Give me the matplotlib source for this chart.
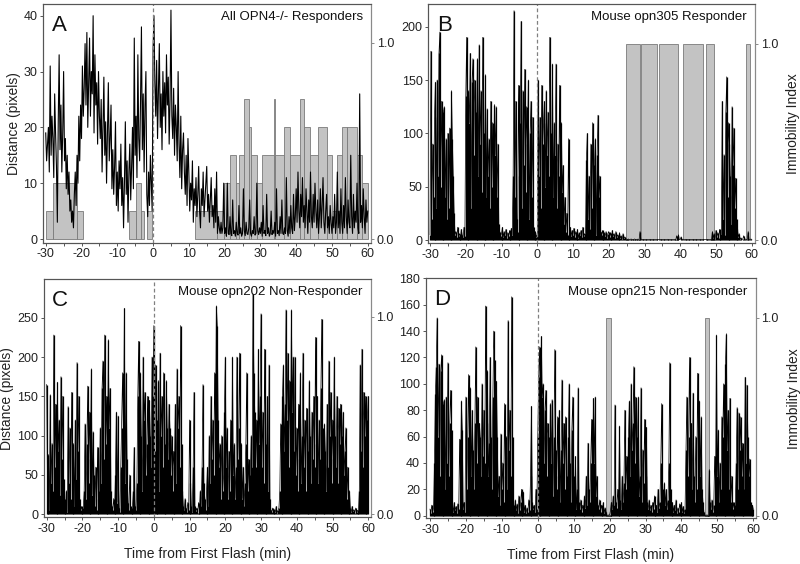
import numpy as np
import matplotlib
matplotlib.use("Agg")
import matplotlib.pyplot as plt
from matplotlib.ticker import MultipleLocator

plt.rcParams['font.family'] = ['Liberation Sans', 'DejaVu Sans']
plt.rcParams['axes.unicode_minus'] = False

# ---------------- data ----------------
t_start = -30.0          # minutes
t_step = 0.25            # sampling interval (minutes)

dist_A = [
    19, 14, 17, 20, 12, 31, 15, 22, 18, 11, 26, 19, 13, 3, 21, 33, 16, 24, 12, 19,
    30, 14, 18, 9, 15, 8, 12, 5, 7, 3, 5, 2, 8, 12, 6, 15, 10, 22, 14, 24,
    18, 31, 22, 27, 35, 24, 37, 20, 28, 36, 22, 30, 26, 40, 19, 33, 24, 28, 17, 30,
    22, 18, 25, 12, 20, 29, 15, 21, 10, 19, 28, 14, 18, 24, 9, 16, 8, 13, 21, 6,
    12, 5, 14, 9, 17, 6, 11, 2, 10, 21, 8, 14, 3, 12, 17, 7, 13, 20, 9, 36,
    15, 22, 11, 33, 18, 14, 25, 38, 16, 26, 12, 24, 30, 8, 4, 12, 6, 15, 10, 5,
    34, 40, 28, 22, 32, 18, 27, 35, 20, 26, 16, 30, 22, 28, 19, 33, 24, 29, 17, 25,
    41, 22, 18, 27, 15, 24, 20, 14, 30, 17, 11, 22, 9, 16, 19, 12, 8, 15, 6, 18,
    12, 5, 10, 7, 14, 3, 9, 6, 11, 4, 8, 13, 5, 2, 9, 6, 12, 4, 7, 10,
    13, 5, 8, 3, 7, 11, 4, 6, 2, 9, 3, 12, 1, 4, 2, 1, 3, 1, 2, 10,
    1, 2, 0.5, 10, 1, 0.8, 4, 1, 0.6, 7, 1, 1.5, 0.5, 3, 1, 0.7, 6, 1, 2, 0.5,
    1, 9, 1.5, 0.6, 3, 1, 0.8, 2, 7, 1, 0.5, 1.5, 1, 4, 0.7, 1, 10, 1.5, 0.8, 2,
    1, 3, 0.5, 6, 1, 1.5, 0.6, 8, 1, 2, 0.5, 1, 5, 0.8, 1.5, 1, 3, 0.5, 9, 1,
    1.5, 0.6, 4, 1, 7, 1, 0.8, 2, 1, 11, 1.5, 0.5, 4, 1, 6, 2, 1, 8, 1.5, 4,
    9, 3, 12, 5, 2, 8, 4, 11, 3, 6, 2, 9, 5, 1, 7, 3, 12, 4, 2, 8,
    3, 10, 5, 2, 7, 1, 4, 9, 2, 6, 11, 3, 1, 5, 8, 2, 4, 1, 6, 3,
    1, 4, 2, 8, 1, 3, 12, 2, 5, 1, 9, 3, 1, 6, 2, 11, 4, 1, 7, 3,
    2, 15, 4, 1, 8, 2, 5, 3, 10, 2, 1, 26, 3, 6, 2, 9, 4, 1, 7, 3,
    5,
]

dist_B = [
    5, 177, 20, 90, 40, 115, 148, 30, 150, 60, 175, 195, 50, 130, 70, 120, 125, 40, 95, 20,
    100, 30, 105, 15, 140, 95, 60, 25, 5, 8, 3, 12, 4, 6, 2, 10, 5, 3, 12, 4,
    135, 190, 60, 140, 110, 175, 30, 148, 170, 80, 150, 120, 100, 170, 60, 183, 90, 140, 45, 190,
    100, 70, 155, 40, 123, 60, 95, 30, 130, 50, 110, 20, 127, 80, 125, 40, 90, 15, 8, 4,
    6, 12, 3, 8, 5, 10, 2, 7, 4, 9, 3, 11, 5, 60, 215, 40, 130, 20, 8, 145,
    60, 110, 205, 30, 140, 70, 160, 45, 125, 90, 150, 20, 100, 130, 40, 115, 12, 5, 8, 3,
    5, 150, 60, 115, 30, 145, 90, 110, 130, 50, 140, 80, 120, 60, 190, 100, 70, 165, 40, 110,
    80, 165, 30, 90, 60, 145, 20, 110, 45, 70, 15, 40, 8, 25, 5, 95, 6, 12, 4, 9,
    5, 11, 3, 8, 4, 10, 2, 7, 5, 9, 3, 12, 4, 6, 2, 75, 100, 20, 60, 10,
    90, 30, 110, 15, 70, 95, 5, 80, 117, 40, 60, 8, 5, 9, 3, 7, 4, 8, 2, 6,
    8, 3, 7, 2, 9, 4, 6, 2, 8, 3, 5, 1, 7, 2, 4, 1, 6, 2, 3, 1,
    1, 0.5, 1, 0.3, 0.5, 1, 0.4, 0.6, 0.5, 1, 0.3, 0.5, 0.8, 0.4, 1, 8, 0.5, 0.3, 0.6, 0.4,
    0.5, 0.3, 0.6, 0.4, 0.5, 0.3, 0.7, 0.4, 0.5, 0.3, 0.6, 0.4, 0.5, 0.3, 0.6, 0.4, 0.5, 0.3, 0.6, 0.4,
    0.5, 0.3, 0.6, 0.4, 0.5, 0.3, 0.7, 0.4, 0.5, 0.3, 0.6, 0.4, 0.5, 0.3, 0.6, 0.4, 4, 0.3, 5, 0.4,
    0.5, 3, 0.6, 0.4, 0.5, 0.3, 0.7, 0.4, 0.5, 0.3, 0.6, 0.4, 0.5, 0.3, 0.6, 0.4, 0.5, 0.3, 0.6, 0.4,
    0.5, 0.3, 0.6, 0.4, 0.5, 0.3, 0.7, 0.4, 0.5, 0.3, 0.6, 0.4, 0.5, 0.3, 0.6, 0.4, 8, 2, 6, 1,
    9, 3, 7, 2, 10, 4, 6, 130, 20, 80, 5, 120, 153, 40, 110, 90, 60, 15, 125, 70,
    105, 30, 58, 20, 10, 3, 6, 1, 2, 0.5, 1, 4, 0.5, 1, 0.5, 0.3, 8, 0.5, 0.4, 1,
    0.5,
]

dist_C = [
    165, 20, 76, 5, 152, 40, 90, 30, 228, 60, 140, 10, 168, 80, 120, 25, 175, 70, 150, 45,
    20, 5, 30, 3, 137, 40, 110, 20, 155, 60, 90, 10, 120, 45, 193, 80, 150, 20, 5, 10,
    3, 8, 30, 115, 20, 90, 163, 40, 130, 70, 185, 25, 105, 50, 10, 60, 5, 85, 20, 30,
    110, 40, 160, 195, 70, 228, 90, 150, 45, 222, 110, 160, 30, 10, 5, 20, 4, 50, 130, 15,
    125, 8, 3, 60, 110, 180, 90, 262, 40, 180, 70, 15, 5, 50, 10, 3, 8, 30, 85, 10,
    5, 40, 150, 220, 60, 180, 100, 30, 200, 120, 155, 50, 90, 150, 40, 145, 100, 60, 200, 150,
    240, 80, 190, 120, 60, 170, 30, 205, 100, 150, 60, 180, 90, 40, 170, 110, 70, 140, 110, 50,
    100, 30, 80, 60, 140, 40, 185, 110, 150, 60, 240, 90, 30, 10, 5, 20, 8, 3, 15, 6,
    120, 40, 10, 3, 60, 155, 10, 4, 8, 2, 15, 5, 30, 10, 60, 165, 40, 20, 5, 30,
    60, 10, 100, 40, 150, 70, 120, 50, 180, 100, 265, 240, 120, 60, 90, 20, 100, 30, 50, 130,
    200, 60, 110, 20, 80, 30, 120, 10, 200, 50, 90, 20, 60, 200, 70, 110, 205, 40, 90, 20,
    60, 10, 40, 90, 180, 30, 70, 10, 50, 100, 60, 280, 180, 130, 60, 120, 40, 210, 90, 150,
    255, 60, 130, 40, 210, 90, 50, 150, 30, 190, 20, 5, 3, 8, 2, 6, 3, 10, 2, 5,
    8, 30, 115, 60, 150, 190, 80, 140, 260, 120, 205, 60, 170, 90, 260, 130, 200, 80, 200, 50,
    110, 30, 140, 70, 180, 40, 100, 205, 60, 120, 30, 135, 80, 50, 170, 100, 40, 130, 70, 150,
    60, 225, 90, 150, 40, 120, 70, 160, 248, 110, 50, 115, 80, 30, 140, 60, 195, 100, 155, 40,
    120, 70, 200, 100, 60, 150, 40, 135, 90, 140, 30, 100, 130, 50, 80, 110, 20, 60, 10, 30,
    8, 3, 10, 4, 6, 2, 8, 3, 5, 2, 30, 190, 80, 210, 60, 155, 100, 150, 40, 120,
    150,
]

dist_D = [
    5, 2, 8, 3, 6, 40, 92, 113, 150, 60, 115, 30, 110, 122, 50, 85, 88, 20, 90, 40,
    116, 30, 70, 95, 65, 8, 3, 10, 4, 7, 2, 9, 5, 58, 20, 87, 65, 5, 10, 3,
    90, 20, 60, 107, 40, 97, 30, 80, 50, 20, 70, 128, 40, 90, 25, 70, 60, 30, 100, 45,
    80, 40, 159, 70, 110, 30, 55, 120, 60, 20, 90, 140, 118, 40, 102, 60, 15, 30, 8, 62,
    20, 40, 10, 85, 30, 60, 20, 148, 50, 80, 30, 166, 60, 8, 3, 12, 4, 9, 2, 15,
    4, 10, 20, 5, 18, 3, 8, 2, 6, 3, 12, 4, 30, 83, 10, 5, 8, 3, 20, 5,
    60, 105, 128, 60, 136, 90, 100, 40, 80, 95, 30, 70, 60, 20, 85, 40, 88, 15, 60, 126,
    50, 20, 75, 30, 80, 10, 50, 103, 40, 70, 20, 75, 30, 8, 60, 100, 40, 10, 65, 90,
    30, 8, 45, 5, 20, 97, 10, 5, 12, 3, 8, 4, 15, 6, 30, 8, 55, 20, 10, 40,
    73, 20, 89, 40, 90, 15, 30, 8, 5, 12, 3, 8, 4, 10, 2, 6, 3, 0.5, 0.3, 0.5,
    0.5, 4, 10, 5, 15, 8, 84, 10, 6, 20, 8, 68, 12, 5, 30, 10, 25, 80, 20, 45,
    15, 60, 87, 30, 100, 50, 70, 113, 40, 90, 20, 60, 90, 15, 30, 97, 10, 50, 25, 73,
    30, 67, 10, 5, 12, 4, 8, 3, 10, 5, 15, 4, 8, 3, 20, 6, 10, 40, 85, 20,
    10, 25, 8, 20, 5, 12, 40, 116, 20, 5, 10, 3, 8, 4, 12, 2, 6, 3, 9, 4,
    10, 3, 7, 2, 5, 50, 90, 30, 60, 120, 40, 70, 20, 93, 30, 10, 60, 20, 108, 40,
    87, 30, 75, 20, 10, 3, 0.5, 0.3, 0.5, 0.4, 0.5, 35, 10, 5, 12, 3, 8, 45, 20, 137,
    30, 65, 10, 40, 20, 75, 60, 100, 40, 115, 138, 50, 80, 20, 89, 10, 30, 5, 10, 3,
    8, 40, 82, 20, 78, 50, 75, 30, 55, 10, 20, 105, 40, 99, 60, 30, 43, 10, 5, 8,
    5,
]

# Immobility index (panel A: group mean, in sevenths, step segments)
imm_A_edges = [-30.0, -28.1, -21.2, -19.7, -6.8, -4.8, -3.5, -2.5, -1.7, -0.4, 11.6, 17.8,
               19.9, 21.4, 23.2, 24.1, 25.3, 26.7, 27.3, 29.0, 30.5, 33.8, 34.1, 36.5,
               38.3, 41.0, 42.3, 44.0, 46.2, 48.5, 49.9, 51.3, 52.7, 54.1, 56.9, 58.3, 60.2]
imm_A_sevenths = [1, 2, 1, 0, 1, 2, 1, 0, 1, 0, 1, 1, 2, 3, 2, 3, 5, 4, 3, 2,
                  3, 5, 3, 4, 3, 5, 4, 3, 4, 3, 1, 3, 4, 4, 3, 2]

# Immobility index = 1 intervals (minutes) for single mice
imm_B_start = [24.8, 29.05, 34.1, 40.8, 47.1, 58.4]
imm_B_end = [28.6, 33.6, 39.3, 46.5, 49.3, 59.55]
imm_C_start = []
imm_C_end = []
imm_D_start = [18.9, 46.6]
imm_D_end = [20.3, 47.7]

x_ticks = [-30, -20, -10, 0, 10, 20, 30, 40, 50, 60]

# ---------------- plotting ----------------
fig = plt.figure(figsize=(8, 5.64), dpi=100)

panels = [
    dict(key='A', dist=dist_A, rect=[0.0538, 0.5697, 0.4100, 0.4232], xlim=(-30.75, 60.92),
         ylim=(-0.66, 42.1), yticks=[0, 10, 20, 30, 40], one=35.2,
         title='All OPN4-/- Responders', ylabel=True, rlabel=False, xlabel=False),
    dict(key='B', dist=dist_B, rect=[0.5354, 0.5691, 0.4084, 0.4238], xlim=(-30.48, 60.92),
         ylim=(-2.8, 221.25), yticks=[0, 50, 100, 150, 200], one=184.0,
         title='Mouse opn305 Responder', ylabel=False, rlabel=True, xlabel=False),
    dict(key='C', dist=dist_C, rect=[0.0546, 0.0828, 0.4091, 0.4225], xlim=(-30.84, 60.76),
         ylim=(-3.8, 299.2), yticks=[0, 50, 100, 150, 200, 250], one=251.3,
         title='Mouse opn202 Non-Responder', ylabel=True, rlabel=False, xlabel=True),
    dict(key='D', dist=dist_D, rect=[0.5321, 0.0810, 0.4129, 0.4255], xlim=(-31.2, 60.75),
         ylim=(-2.0, 180.0), yticks=list(range(0, 181, 20)), one=150.1,
         title='Mouse opn215 Non-responder', ylabel=False, rlabel=True, xlabel=True),
]

imm_intervals = {'B': (imm_B_start, imm_B_end), 'C': (imm_C_start, imm_C_end),
                 'D': (imm_D_start, imm_D_end)}

frame_col = '#555555'
fill_col = '#c3c3c3'
edge_col = '#7a7a7a'

for p in panels:
    ax = fig.add_axes(p['rect'])
    ax2 = ax.twinx()
    ax.set_zorder(ax2.get_zorder() + 1)
    ax.patch.set_visible(False)

    # immobility index on right axis
    if p['key'] == 'A':
        e = np.array(imm_A_edges)
        lv = np.array(imm_A_sevenths) / 7.0
        m = lv > 0
        ax2.bar(e[:-1][m], lv[m], width=np.diff(e)[m], align='edge',
                color=fill_col, edgecolor=edge_col, linewidth=0.6)
    else:
        s, en = imm_intervals[p['key']]
        if len(s):
            s = np.array(s); en = np.array(en)
            ax2.bar(s, np.ones_like(s), width=en - s, align='edge',
                    color=fill_col, edgecolor=edge_col, linewidth=0.6)

    d = np.array(p['dist'], dtype=float)
    t = t_start + t_step * np.arange(len(d))
    if p['key'] == 'A':
        ax.plot(t, d, color='black', lw=0.8)
    else:
        ax.vlines(t, 0, d, color='black', lw=0.9)
        ax.plot(t, d, color='black', lw=0.5)
    ax.axvline(0, color='#808080', lw=0.9, ls=(0, (3, 2)))

    ax.set_xlim(*p['xlim'])
    ax.set_ylim(*p['ylim'])
    ax2.set_ylim(p['ylim'][0] / p['one'], p['ylim'][1] / p['one'])

    ax.set_xticks(x_ticks)
    ax.xaxis.set_minor_locator(MultipleLocator(5))
    ax.set_yticks(p['yticks'])
    ax2.set_yticks([0, 1])
    ax2.set_yticklabels(['0.0', '1.0'])

    for a in (ax, ax2):
        for sp in a.spines.values():
            sp.set_color(frame_col)
            sp.set_linewidth(0.8)
        a.spines['right'].set_color('#8a8a8a')
    ax.tick_params(axis='both', which='both', direction='out', length=2.5, width=0.7,
                   color=frame_col, labelsize=9, pad=1.5, labelcolor='#222222')
    ax.tick_params(axis='x', which='minor', length=2.5)
    ax2.tick_params(axis='y', direction='out', length=2.5, width=0.7, color='#8a8a8a',
                    labelsize=9, pad=1.5, labelcolor='#222222')

    ax.text(0.026, 0.955, p['key'], transform=ax.transAxes, fontsize=16,
            ha='left', va='top', color='#111111')
    ax.text(0.975, 0.97, p['title'], transform=ax.transAxes, fontsize=9.5,
            ha='right', va='top', color='#111111')

    if p['ylabel']:
        ax.set_ylabel('Distance (pixels)', fontsize=10, labelpad=2, color='#222222')
    if p['rlabel']:
        ax2.set_ylabel('Immobility Index', fontsize=10, labelpad=6, color='#222222')
    if p['xlabel']:
        ax.set_xlabel('Time from First Flash (min)', fontsize=10, labelpad=9,
                      color='#222222')

fig.savefig('out.png', dpi=100)
